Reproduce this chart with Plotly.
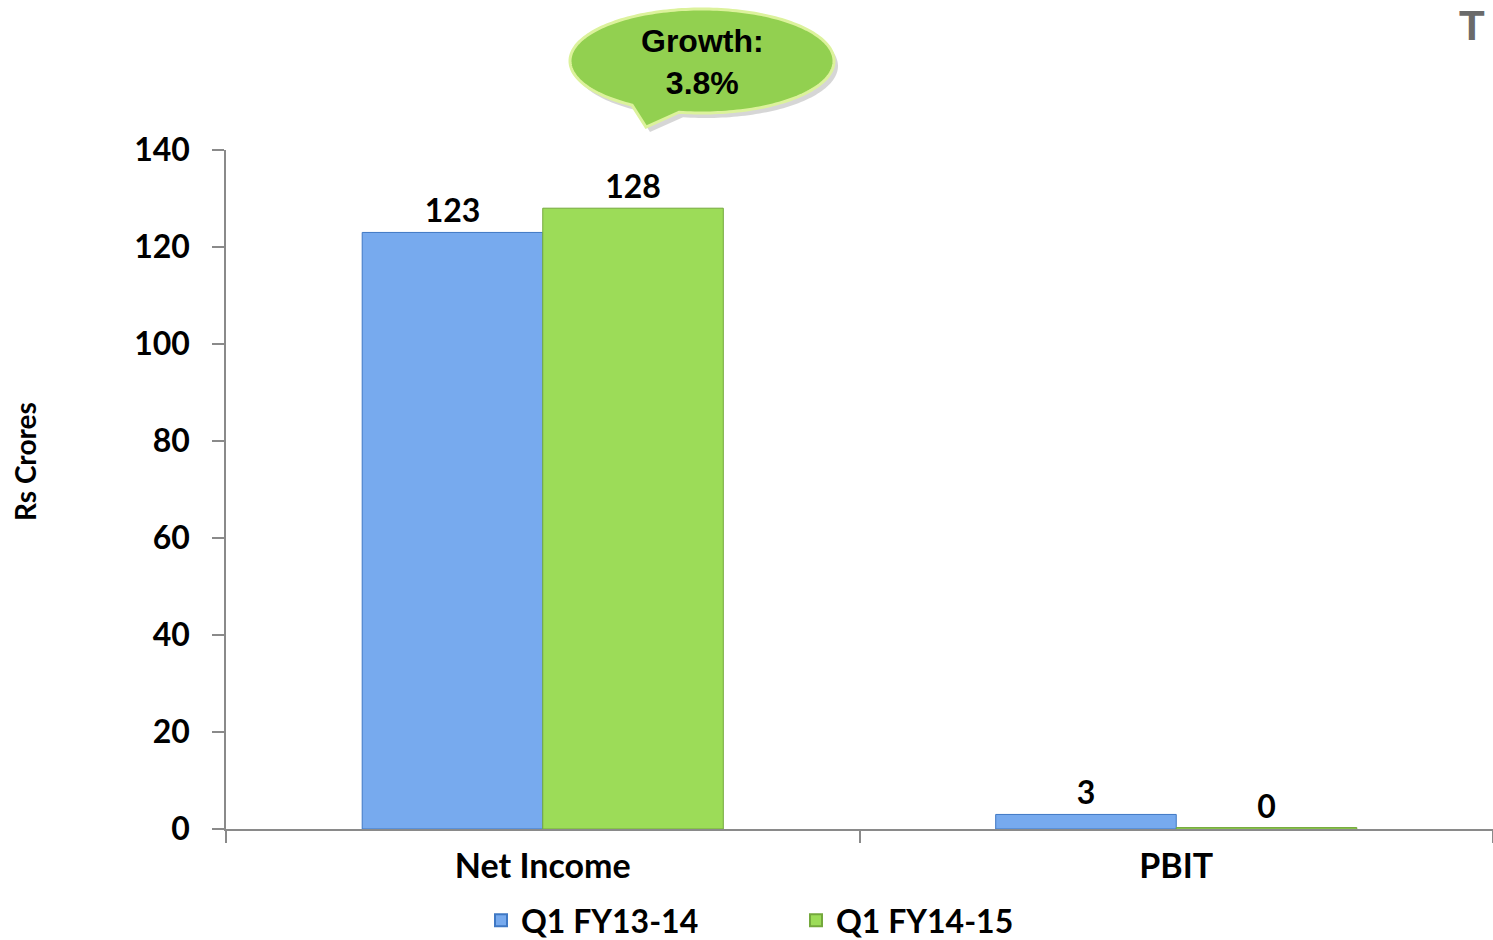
import numpy as np
import plotly.graph_objects as go

# ---- data ----
categories = ["Net Income", "PBIT"]
series_names = ["Q1 FY13-14", "Q1 FY14-15"]
q1_fy13_14 = [123, 3]
q1_fy14_15 = [128, 0.3]
y_ticks = [0, 20, 40, 60, 80, 100, 120, 140]
callout_text = "Growth:<br>3.8%"
y_title = "Rs Crores"

W, H = 1493, 940
L, R, T, B = 226, 0, 150, 111
PW, PH = W - L - R, H - T - B

def px(x):
    return (x - L) / PW

def py(y):
    return (H - B - y) / PH

FONT = "Lato, 'Open Sans', sans-serif"

fig = go.Figure()
fig.add_trace(go.Bar(
    x=categories, y=q1_fy13_14, name=series_names[0],
    marker=dict(color="#77aaee", line=dict(color="#3f78c4", width=1)),
    text=q1_fy13_14, texttemplate="%{y:.0f}", textposition="outside",
    textfont=dict(family=FONT, size=32, color="black", weight="bold"),
    cliponaxis=False,
))
fig.add_trace(go.Bar(
    x=categories, y=q1_fy14_15, name=series_names[1],
    marker=dict(color="#9cdc58", line=dict(color="#74a83c", width=1)),
    text=q1_fy14_15, texttemplate="%{y:.0f}", textposition="outside",
    textfont=dict(family=FONT, size=32, color="black", weight="bold"),
    cliponaxis=False,
))

# ---- callout bubble (decoration) ----
cx, cy, rx, ry = 702, 61, 132, 52
tail_start, tail_end = np.deg2rad(100), np.deg2rad(122)  # angles measured with y down
tip = (646, 127)
ang = np.linspace(tail_end, tail_start + 2 * np.pi, 200)
pts = [(cx + rx * np.cos(a), cy + ry * np.sin(a)) for a in ang]

def bubble_path(dx=0, dy=0):
    d = f"M {px(pts[0][0]+dx):.5f},{py(pts[0][1]+dy):.5f} "
    for (x, y) in pts[1:]:
        d += f"L {px(x+dx):.5f},{py(y+dy):.5f} "
    d += f"L {px(tip[0]+dx):.5f},{py(tip[1]+dy):.5f} Z"
    return d

fig.add_shape(type="path", xref="paper", yref="paper", path=bubble_path(4, 5),
              fillcolor="rgba(0,0,0,0.16)", line=dict(width=0), layer="above")
fig.add_shape(type="path", xref="paper", yref="paper", path=bubble_path(),
              fillcolor="#92d050", line=dict(color="#dcf29c", width=3), layer="above")
fig.add_annotation(x=px(702), y=py(62), xref="paper", yref="paper",
                   xanchor="center", yanchor="middle",
                   text=callout_text, showarrow=False, align="center",
                   font=dict(family="Liberation Sans, Arial, sans-serif", size=32,
                             color="black", weight="bold"))

# y axis title
fig.add_annotation(x=px(25), y=py(462), xref="paper", yref="paper", text=y_title,
                   xanchor="center", yanchor="middle",
                   textangle=-90, showarrow=False,
                   font=dict(family=FONT, size=28, color="black", weight="bold"))

# cut-off logo fragment in top-right corner
fig.add_annotation(x=px(1472), y=py(26), xref="paper", yref="paper", text="T",
                   xanchor="center", yanchor="middle", showarrow=False,
                   font=dict(family="Liberation Sans, Arial, sans-serif", size=42,
                             color="#6a6a6a", weight="bold"))

fig.update_layout(
    width=W, height=H,
    margin=dict(l=L, r=R, t=T, b=B, autoexpand=False),
    paper_bgcolor="white", plot_bgcolor="white",
    barmode="group", bargap=0.43, bargroupgap=0,
    showlegend=True,
    legend=dict(orientation="h", x=px(481), xanchor="left", y=py(948), yanchor="bottom",
                font=dict(family=FONT, size=32, color="black", weight="bold"),
                entrywidth=270, entrywidthmode="pixels", itemsizing="constant",
                bgcolor="rgba(0,0,0,0)"),
    font=dict(family=FONT, color="black"),
)
fig.update_xaxes(
    type="category", showline=True, linecolor="#8a8a8a", linewidth=1.5,
    ticks="outside", tickson="boundaries", ticklen=12, tickcolor="#8a8a8a", tickwidth=1.5,
    tickfont=dict(family=FONT, size=34, color="black", weight="bold"),
    ticklabelstandoff=6,
    showgrid=False, zeroline=False,
)
fig.update_yaxes(
    range=[0, 140], tickvals=y_ticks, ticktext=[str(v) for v in y_ticks],
    showline=True, linecolor="#8a8a8a", linewidth=1.5,
    ticks="outside", ticklen=12, tickcolor="#8a8a8a", tickwidth=1.5,
    tickfont=dict(family=FONT, size=32, color="black", weight="bold"),
    ticklabelstandoff=16,
    showgrid=False, zeroline=False,
)

fig.write_html("out.html")
